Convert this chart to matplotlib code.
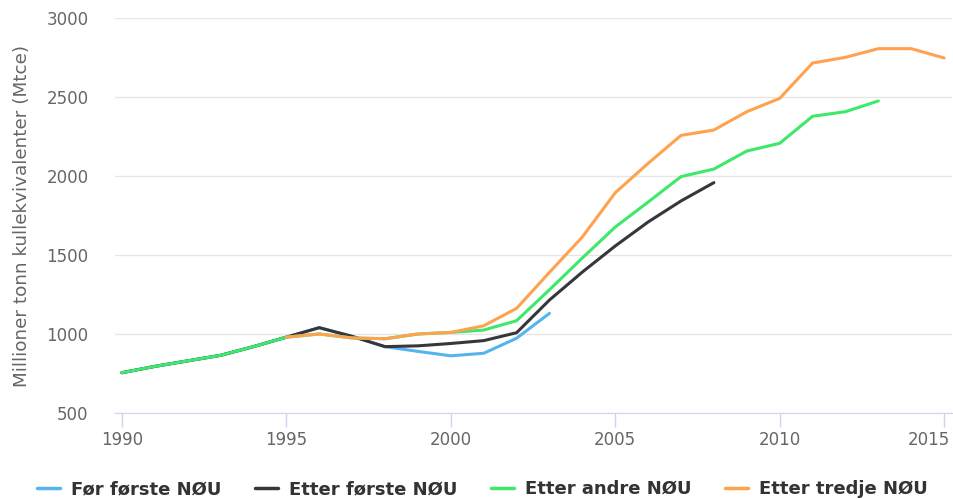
import matplotlib.pyplot as plt
import matplotlib.transforms as mtransforms
import numpy as np

plt.rcParams['font.family'] = ['DejaVu Sans']

# data (Mtce)
years_blue = np.arange(1990, 2004)
before_first = [755, 795, 830, 865, 920, 980, 1040, 985, 920, 890, 862, 878, 973, 1131]

years_black = np.arange(1990, 2009)
after_first = [755, 795, 830, 865, 920, 980, 1040, 985, 920, 925, 940, 958, 1008,
               1215, 1392, 1557, 1709, 1842, 1958]

years_green = np.arange(1990, 2014)
after_second = [755, 795, 830, 865, 920, 980, 1000, 975, 970, 1000, 1010, 1025, 1084,
                1280, 1481, 1677, 1835, 1996, 2044, 2158, 2207, 2378, 2407, 2475]

years_orange = np.arange(1995, 2016)
after_third = [980, 1000, 975, 970, 1000, 1010, 1052, 1162, 1390, 1614, 1894, 2080,
               2257, 2291, 2407, 2491, 2715, 2751, 2806, 2806, 2747]

labels = ['Før første NØU', 'Etter første NØU', 'Etter andre NØU', 'Etter tredje NØU']
colors = ['#55b4f0', '#36363b', '#3de86a', '#ffa24f']

fig = plt.figure(figsize=(9.54, 4.99), dpi=100)
ax = fig.add_axes([115/954, 86/499, (952-115)/954, (413-18)/499])

series = [(years_blue, before_first), (years_black, after_first),
          (years_green, after_second), (years_orange, after_third)]
for (x, y), lab, c in zip(series, labels, colors):
    ax.plot(x, y, color=c, lw=2.2, label=lab, solid_capstyle='round')

ax.set_xlim(1989.79, 2015.24)
ax.set_ylim(500, 3000)
ax.set_yticks([500, 1000, 1500, 2000, 2500, 3000])
ax.set_xticks([1990, 1995, 2000, 2005, 2010, 2015])
ax.grid(axis='y', color='#e6e6e6', lw=1)
ax.set_axisbelow(True)
for s in ['top', 'right', 'left']:
    ax.spines[s].set_visible(False)
ax.spines['bottom'].set_color('#ccd6eb')
ax.tick_params(axis='x', colors='#ccd6eb', length=10, width=1, labelcolor='#666666',
               labelsize=12, pad=3)
ax.tick_params(axis='y', length=0, labelcolor='#666666', labelsize=12, pad=19)
ax.set_ylabel('Millioner tonn kullekvivalenter (Mtce)', color='#666666', fontsize=13.2,
              labelpad=11)

# last x label is pushed left to stay inside the chart, as in the original
last = ax.get_xticklabels()[-1]
last.set_transform(last.get_transform() + mtransforms.ScaledTranslation(-0.15, 0, fig.dpi_scale_trans))

leg = fig.legend(loc='center', bbox_to_anchor=(0.506, 0.02), ncol=4, frameon=False,
                 prop={'weight': 'bold', 'size': 13}, handlelength=1.27,
                 columnspacing=1.85, handletextpad=0.62)
for t in leg.get_texts():
    t.set_color('#333333')
for h in leg.legend_handles:
    h.set_linewidth(2.5)

fig.savefig('out.png', dpi=100)
